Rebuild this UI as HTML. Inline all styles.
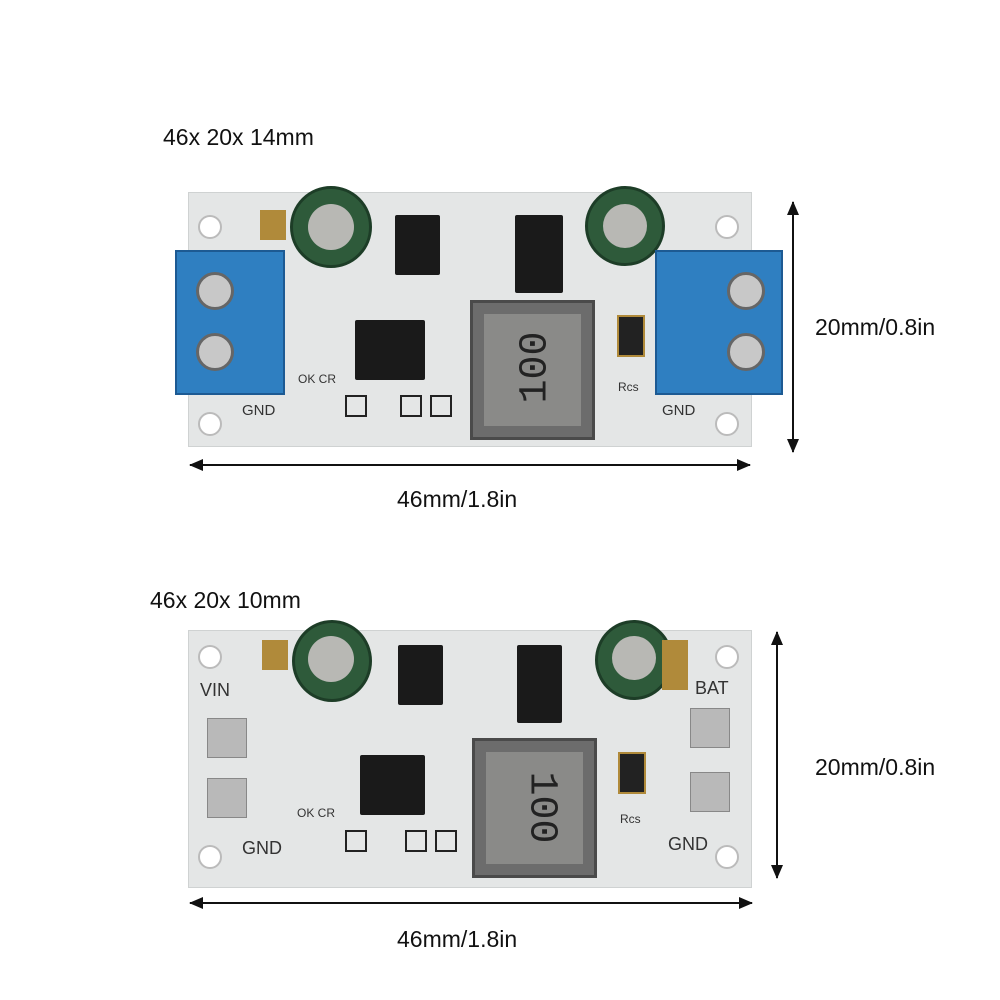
<!DOCTYPE html>
<html><head><meta charset="utf-8"><style>
body{margin:0;width:1000px;height:1000px;background:#fff;position:relative;overflow:hidden;font-family:"Liberation Sans",sans-serif}
div{position:absolute;box-sizing:border-box}
.t{font-size:23px;color:#111;white-space:nowrap}
.pcb{background:#e4e6e6;border:1px solid #cfd2d2}
.hole{width:24px;height:24px;border-radius:50%;background:#fff;border:2px solid #bbb}
.cap{border-radius:50%;background:#2e5a3a;border:3px solid #1d3d27}
.capt{border-radius:50%;background:#b8b8b4}
.ic{background:#1a1a1a;border-radius:2px}
.blue{background:#2f7fc1;border:2px solid #1d5a93}
.screw{border-radius:50%;background:#c8c8c8;border:3px solid #666}
.ind{background:#6c6c6c;border:3px solid #4a4a4a}
.indi{background:#8a8a88}
.sm{background:#222;border:2px solid #b08a3a}
.lbl{font-size:15px;color:#333}
.pad{background:#b9b9b9;border:1px solid #888}
</style></head><body>

<div class="t" style="left:163px;top:124px">46x 20x 14mm</div>
<div class="t" style="left:815px;top:314px">20mm/0.8in</div>
<div class="t" style="left:397px;top:486px">46mm/1.8in</div>
<div class="t" style="left:150px;top:587px">46x 20x 10mm</div>
<div class="t" style="left:815px;top:754px">20mm/0.8in</div>
<div class="t" style="left:397px;top:926px">46mm/1.8in</div>

<svg style="position:absolute;left:0;top:0" width="1000" height="1000">
<defs><marker id="a" markerUnits="userSpaceOnUse" markerWidth="14" markerHeight="12" refX="13" refY="6" orient="auto-start-reverse"><path d="M0,0 L14,6 L0,12 z" fill="#111"/></marker></defs>
<line x1="793" y1="202" x2="793" y2="452" stroke="#111" stroke-width="2" marker-start="url(#a)" marker-end="url(#a)"/>
<line x1="190" y1="465" x2="750" y2="465" stroke="#111" stroke-width="2" marker-start="url(#a)" marker-end="url(#a)"/>
<line x1="777" y1="632" x2="777" y2="878" stroke="#111" stroke-width="2" marker-start="url(#a)" marker-end="url(#a)"/>
<line x1="190" y1="903" x2="752" y2="903" stroke="#111" stroke-width="2" marker-start="url(#a)" marker-end="url(#a)"/>
</svg>

<!-- top board -->
<div class="pcb" style="left:188px;top:192px;width:564px;height:255px"></div>
<div class="hole" style="left:198px;top:215px"></div>
<div class="hole" style="left:715px;top:215px"></div>
<div class="hole" style="left:198px;top:412px"></div>
<div class="hole" style="left:715px;top:412px"></div>
<div class="cap" style="left:290px;top:186px;width:82px;height:82px"></div>
<div class="capt" style="left:308px;top:204px;width:46px;height:46px"></div>
<div class="cap" style="left:585px;top:186px;width:80px;height:80px"></div>
<div class="capt" style="left:603px;top:204px;width:44px;height:44px"></div>
<div class="ic" style="left:395px;top:215px;width:45px;height:60px"></div>
<div class="ic" style="left:515px;top:215px;width:48px;height:78px"></div>
<div class="ic" style="left:355px;top:320px;width:70px;height:60px"></div>
<div class="ind" style="left:470px;top:300px;width:125px;height:140px"></div>
<div class="indi" style="left:484px;top:314px;width:97px;height:112px"></div>
<div style="left:500px;top:345px;font-size:40px;color:#222;transform:rotate(-90deg);font-family:'Liberation Mono',monospace">100</div>
<div class="sm" style="left:617px;top:315px;width:28px;height:42px"></div>
<div class="blue" style="left:175px;top:250px;width:110px;height:145px"></div>
<div class="screw" style="left:196px;top:272px;width:38px;height:38px"></div>
<div class="screw" style="left:196px;top:333px;width:38px;height:38px"></div>
<div class="blue" style="left:655px;top:250px;width:128px;height:145px"></div>
<div class="screw" style="left:727px;top:272px;width:38px;height:38px"></div>
<div class="screw" style="left:727px;top:333px;width:38px;height:38px"></div>
<div class="lbl" style="left:242px;top:402px">GND</div>
<div class="lbl" style="left:662px;top:402px">GND</div>
<div class="lbl" style="left:618px;top:380px;font-size:12px">Rcs</div>
<div class="lbl" style="left:298px;top:372px;font-size:12px">OK CR</div>
<div class="sm" style="left:345px;top:395px;width:22px;height:22px;border-color:#222;background:#e4e6e6"></div>
<div class="sm" style="left:400px;top:395px;width:22px;height:22px;border-color:#222;background:#e4e6e6"></div>
<div class="sm" style="left:430px;top:395px;width:22px;height:22px;border-color:#222;background:#e4e6e6"></div>
<div class="sm" style="left:260px;top:210px;width:26px;height:30px;background:#b08a3a"></div>

<!-- bottom board -->
<div class="pcb" style="left:188px;top:630px;width:564px;height:258px"></div>
<div class="hole" style="left:198px;top:645px"></div>
<div class="hole" style="left:715px;top:645px"></div>
<div class="hole" style="left:198px;top:845px"></div>
<div class="hole" style="left:715px;top:845px"></div>
<div class="cap" style="left:292px;top:620px;width:80px;height:82px"></div>
<div class="capt" style="left:308px;top:636px;width:46px;height:46px"></div>
<div class="cap" style="left:595px;top:620px;width:78px;height:80px"></div>
<div class="capt" style="left:612px;top:636px;width:44px;height:44px"></div>
<div class="ic" style="left:398px;top:645px;width:45px;height:60px"></div>
<div class="ic" style="left:517px;top:645px;width:45px;height:78px"></div>
<div class="ic" style="left:360px;top:755px;width:65px;height:60px"></div>
<div class="ind" style="left:472px;top:738px;width:125px;height:140px"></div>
<div class="indi" style="left:486px;top:752px;width:97px;height:112px"></div>
<div style="left:505px;top:785px;font-size:40px;color:#222;transform:rotate(90deg);font-family:'Liberation Mono',monospace">100</div>
<div class="sm" style="left:618px;top:752px;width:28px;height:42px"></div>
<div class="lbl" style="left:200px;top:680px;font-size:18px">VIN</div>
<div class="lbl" style="left:695px;top:678px;font-size:18px">BAT</div>
<div class="lbl" style="left:242px;top:838px;font-size:18px">GND</div>
<div class="lbl" style="left:668px;top:834px;font-size:18px">GND</div>
<div class="pad" style="left:207px;top:718px;width:40px;height:40px"></div>
<div class="pad" style="left:207px;top:778px;width:40px;height:40px"></div>
<div class="pad" style="left:690px;top:708px;width:40px;height:40px"></div>
<div class="pad" style="left:690px;top:772px;width:40px;height:40px"></div>
<div class="lbl" style="left:620px;top:812px;font-size:12px">Rcs</div>
<div class="lbl" style="left:297px;top:806px;font-size:12px">OK CR</div>
<div class="sm" style="left:262px;top:640px;width:26px;height:30px;background:#b08a3a"></div>
<div class="sm" style="left:662px;top:640px;width:26px;height:50px;background:#b08a3a"></div>
<div class="sm" style="left:345px;top:830px;width:22px;height:22px;border-color:#222;background:#e4e6e6"></div>
<div class="sm" style="left:405px;top:830px;width:22px;height:22px;border-color:#222;background:#e4e6e6"></div>
<div class="sm" style="left:435px;top:830px;width:22px;height:22px;border-color:#222;background:#e4e6e6"></div>
</body></html>
